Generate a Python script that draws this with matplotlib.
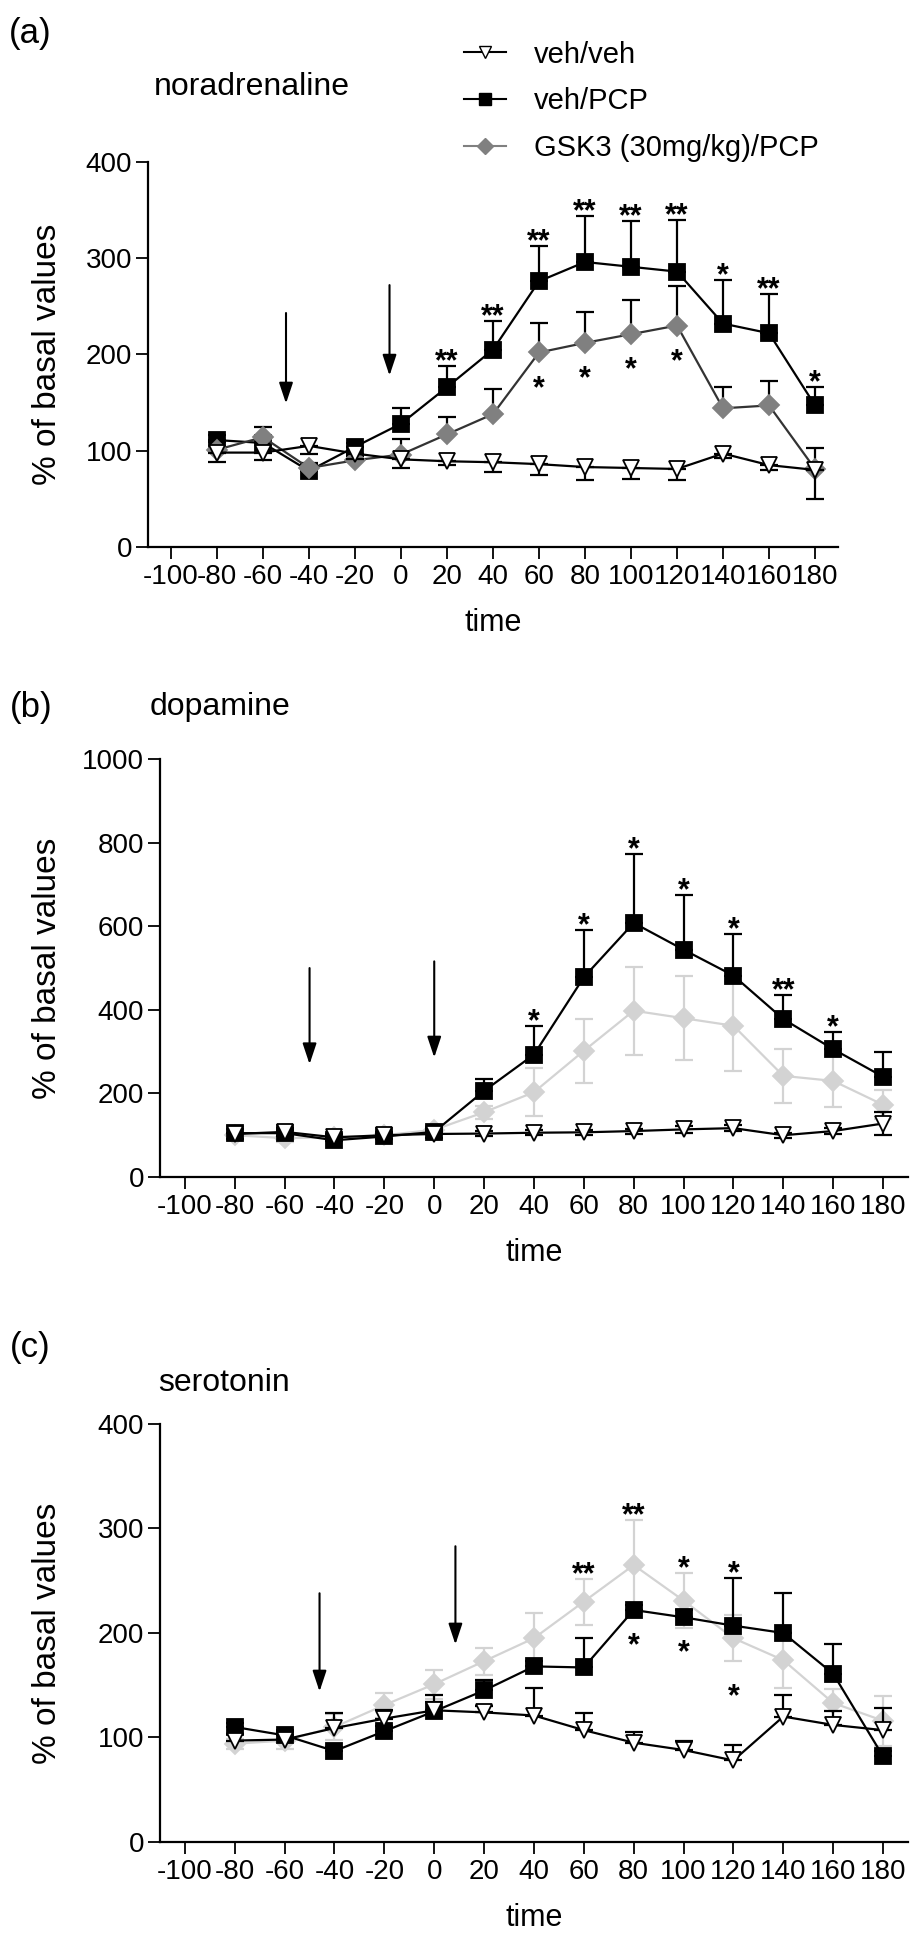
import matplotlib
matplotlib.use("Agg")
import matplotlib.pyplot as plt
from matplotlib.lines import Line2D

plt.rcParams['font.family'] = ['Liberation Sans', 'DejaVu Sans']

times = [-80, -60, -40, -20, 0, 20, 40, 60, 80, 100, 120, 140, 160, 180]
xtick_vals = [-100, -80, -60, -40, -20, 0, 20, 40, 60, 80, 100, 120, 140, 160, 180]
xtick_labels = [str(v) for v in xtick_vals]
series_names = ['veh/veh', 'veh/PCP', 'GSK3 (30mg/kg)/PCP']

# (a) noradrenaline
na_vehveh = [98, 98, 105, 97, 91, 89, 88, 86, 83, 82, 81, 97, 85, 80]
na_vehveh_err = [10, 8, 8, 6, 9, 4, 10, 11, 13, 11, 11, 5, 5, 30]
na_vehpcp = [111, 108, 79, 104, 128, 166, 205, 276, 296, 291, 286, 232, 222, 147]
na_vehpcp_err = [5, 5, 4, 4, 16, 22, 30, 37, 48, 48, 54, 45, 41, 19]
na_gsk = [101, 114, 82, 90, 96, 117, 138, 202, 212, 221, 230, 144, 147, 81]
na_gsk_err = [8, 11, 5, 4, 16, 18, 26, 31, 32, 35, 41, 22, 25, 22]
na_stars = [(20, '**', 'vp', 'above'), (40, '**', 'vp', 'above'), (60, '**', 'vp', 'above'),
            (80, '**', 'vp', 'above'), (100, '**', 'vp', 'above'), (120, '**', 'vp', 'above'),
            (140, '*', 'vp', 'above'), (160, '**', 'vp', 'above'), (180, '*', 'vp', 'above'),
            (60, '*', 'gk', 'below'), (80, '*', 'gk', 'below'), (100, '*', 'gk', 'below'),
            (120, '*', 'gk', 'below')]
na_arrows = [(-50, 243, 149), (-5, 272, 178)]

# (b) dopamine
da_vehveh = [103, 108, 95, 100, 103, 104, 106, 107, 110, 114, 117, 100, 110, 128]
da_vehveh_err = [12, 10, 8, 8, 10, 6, 6, 6, 6, 8, 8, 6, 8, 28]
da_vehpcp = [105, 105, 88, 97, 108, 206, 293, 478, 608, 544, 482, 378, 306, 240]
da_vehpcp_err = [10, 8, 6, 5, 10, 28, 68, 112, 164, 130, 100, 58, 42, 60]
da_gsk = [100, 93, 95, 100, 113, 155, 203, 302, 398, 380, 362, 242, 230, 173]
da_gsk_err = [8, 8, 6, 6, 10, 15, 58, 76, 105, 100, 108, 65, 62, 35]
da_stars = [(40, '*', 'vp', 'above'), (60, '*', 'vp', 'above'), (80, '*', 'vp', 'above'),
            (100, '*', 'vp', 'above'), (120, '*', 'vp', 'above'), (140, '**', 'vp', 'above'),
            (160, '*', 'vp', 'above')]
da_arrows = [(-50, 500, 270), (0, 516, 286)]

# (c) serotonin
ht_vehveh = [97, 98, 109, 118, 126, 124, 121, 107, 95, 88, 78, 120, 112, 107]
ht_vehveh_err = [6, 8, 14, 8, 8, 6, 26, 16, 10, 9, 15, 21, 13, 21]
ht_vehpcp = [110, 102, 87, 106, 125, 145, 168, 167, 222, 215, 207, 200, 161, 82]
ht_vehpcp_err = [4, 5, 4, 5, 16, 10, 5, 28, 5, 7, 46, 38, 28, 5]
ht_gsk = [94, 97, 110, 131, 151, 173, 195, 230, 265, 231, 195, 174, 133, 116]
ht_gsk_err = [5, 8, 12, 12, 14, 13, 24, 22, 43, 26, 22, 27, 13, 24]
ht_stars = [(60, '**', 'gk', 'above'), (80, '**', 'gk', 'above'), (100, '*', 'gk', 'above'),
            (120, '*', 'vp', 'above'), (80, '*', 'vp', 'below'), (100, '*', 'vp', 'below'),
            (120, '*', 'gk', 'below')]
ht_arrows = [(-46, 238, 144), (8.5, 283, 189)]


def split_err(err, how):
    lo = [e if how in ('down', 'both') else 0 for e in err]
    hi = [e if how in ('up', 'both') else 0 for e in err]
    return lo, hi


def draw_panel(ax, ymax, ystep, vv, vv_err, vv_dir, vp, vp_err, vp_dir, gk, gk_err, gk_dir,
               gsk_col, gsk_line, gsk_bar, gsk_on_top, stars, arrows, ylab_x):
    series = {
        'vv': dict(y=vv, err=split_err(vv_err, vv_dir), marker='v', mfc='white', mec='black',
                   lc='black', bc='black', ms=12),
        'vp': dict(y=vp, err=split_err(vp_err, vp_dir), marker='s', mfc='black', mec='black',
                   lc='black', bc='black', ms=12),
        'gk': dict(y=gk, err=split_err(gk_err, gk_dir), marker='D', mfc=gsk_col, mec=gsk_col,
                   lc=gsk_line, bc=gsk_bar, ms=10.5),
    }
    order = ['vp', 'gk', 'vv'] if gsk_on_top else ['gk', 'vp', 'vv']
    z = 3
    for key in order:
        s = series[key]
        ax.errorbar(times, s['y'], yerr=[s['err'][0], s['err'][1]], fmt='none', ecolor=s['bc'],
                    elinewidth=1.6, capsize=6.5, capthick=1.6, zorder=z)
        ax.plot(times, s['y'], color=s['lc'], lw=1.6, marker=s['marker'], ms=s['ms'],
                mfc=s['mfc'], mec=s['mec'], mew=1.3, zorder=z + 0.5, clip_on=False)
        z += 1

    # significance stars above the upper cap or below the point
    for t, txt, key, side in stars:
        i = times.index(t)
        s = series[key]
        if side == 'above':
            yv = s['y'][i] + s['err'][1][i]
            off = -3
        else:
            yv = s['y'][i] - s['err'][0][i]
            off = -32
        ax.annotate(txt, xy=(t, yv), xytext=(0, off), textcoords='offset points',
                    ha='center', va='baseline', fontsize=22, fontweight='bold', zorder=10)

    for x, top, tip in arrows:
        ax.annotate('', xy=(x, tip), xytext=(x, top),
                    arrowprops=dict(arrowstyle='-|>,head_length=0.9,head_width=0.3',
                                    color='black', lw=1.5, mutation_scale=14,
                                    shrinkA=0, shrinkB=0))

    ax.set_xlim(-110, 190)
    ax.set_ylim(0, ymax)
    ax.set_xticks(xtick_vals, xtick_labels)
    ax.set_yticks(list(range(0, ymax + 1, ystep)))
    for side in ['top', 'right']:
        ax.spines[side].set_visible(False)
    for side in ['left', 'bottom']:
        ax.spines[side].set_linewidth(1.6)
    ax.tick_params(direction='out', length=8.5, width=1.3, labelsize=20)
    ax.tick_params(axis='x', pad=3.5)
    ax.tick_params(axis='y', pad=3)
    ax.set_xlabel('time', fontsize=22, labelpad=13)
    ax.set_ylabel('% of basal values', fontsize=24, va='center')
    ax.yaxis.set_label_coords(ylab_x, 0.5)


fig = plt.figure(figsize=(9.13, 19.34), dpi=100)
ax_a = fig.add_axes([0.1621, 0.7172, 0.7558, 0.1991])
ax_b = fig.add_axes([0.1752, 0.3914, 0.8193, 0.2161])
ax_c = fig.add_axes([0.1752, 0.0476, 0.8193, 0.2161])

draw_panel(ax_a, 400, 100, na_vehveh, na_vehveh_err, 'down', na_vehpcp, na_vehpcp_err, 'up',
           na_gsk, na_gsk_err, 'up', '#808080', '#333333', 'black', True,
           na_stars, na_arrows, -0.145)
draw_panel(ax_b, 1000, 200, da_vehveh, da_vehveh_err, 'both', da_vehpcp, da_vehpcp_err, 'up',
           da_gsk, da_gsk_err, 'both', '#d3d3d3', '#d3d3d3', '#d3d3d3', False,
           da_stars, da_arrows, -0.15)
draw_panel(ax_c, 400, 100, ht_vehveh, ht_vehveh_err, 'up', ht_vehpcp, ht_vehpcp_err, 'up',
           ht_gsk, ht_gsk_err, 'both', '#d3d3d3', '#d3d3d3', '#d3d3d3', False,
           ht_stars, ht_arrows, -0.15)

fig.text(9 / 913, 1 - 33 / 1934, '(a)', fontsize=25, va='center', ha='left')
fig.text(154 / 913, 1 - 87 / 1934, 'noradrenaline', fontsize=23, va='center', ha='left')
fig.text(10 / 913, 1 - 707 / 1934, '(b)', fontsize=25, va='center', ha='left')
fig.text(150 / 913, 1 - 707 / 1934, 'dopamine', fontsize=23, va='center', ha='left')
fig.text(10 / 913, 1 - 1347 / 1934, '(c)', fontsize=25, va='center', ha='left')
fig.text(158 / 913, 1 - 1383 / 1934, 'serotonin', fontsize=23, va='center', ha='left')

handles = [
    Line2D([], [], color='black', lw=1.5, marker='v', ms=9, mfc='white', mec='black'),
    Line2D([], [], color='black', lw=1.5, marker='s', ms=9, mfc='black', mec='black'),
    Line2D([], [], color='#808080', lw=1.5, marker='D', ms=8, mfc='#808080', mec='#808080'),
]
fig.legend(handles, series_names, loc='upper left', bbox_to_anchor=(0.508, 0.979),
           frameon=False, fontsize=21, handlelength=1.45, handletextpad=0.95,
           labelspacing=0.64, borderpad=0, borderaxespad=0)

fig.savefig('out.png', dpi=100)
